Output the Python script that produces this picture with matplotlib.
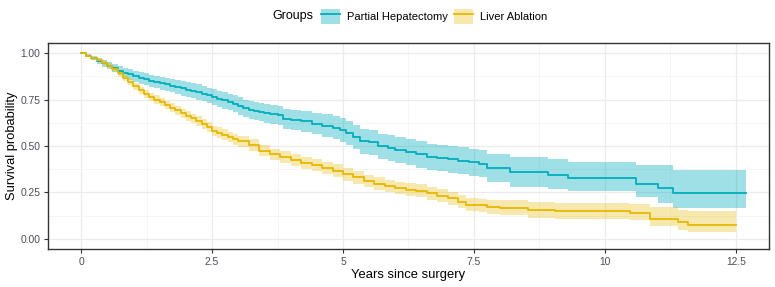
import numpy as np
import matplotlib
matplotlib.use("Agg")
import matplotlib.pyplot as plt
from matplotlib.patches import Patch
from matplotlib.lines import Line2D
from matplotlib.ticker import FixedLocator

plt.rcParams['font.family'] = ['Liberation Sans', 'DejaVu Sans']

# Kaplan-Meier estimates
groups = ['Partial Hepatectomy', 'Liver Ablation']
colors = ['#00AFBB', '#E7B800']
fill_alpha = [0.38, 0.32]

ph_time = [0, 0.1, 0.2, 0.3, 0.4, 0.5, 0.6, 0.7, 0.8, 0.9, 1.0, 1.1, 1.2, 1.3,
           1.4, 1.5, 1.6, 1.7, 1.8, 1.9, 2.0, 2.1, 2.2, 2.3, 2.4, 2.5, 2.6, 2.7,
           2.8, 2.9, 3.0, 3.1, 3.2, 3.3, 3.4, 3.5, 3.6, 3.75, 3.85, 4.0, 4.2,
           4.4, 4.6, 4.8, 4.95, 5.05, 5.2, 5.32, 5.5, 5.67, 5.85, 6.0, 6.2, 6.4,
           6.6, 6.8, 7.0, 7.2, 7.4, 7.6, 7.74, 8.19, 8.92, 9.3, 10.6, 11.02,
           11.29, 12.7]
ph_surv = [1.0, 0.985, 0.972, 0.958, 0.945, 0.932, 0.92, 0.905, 0.895, 0.885,
           0.875, 0.866, 0.858, 0.851, 0.845, 0.838, 0.832, 0.825, 0.818, 0.81,
           0.803, 0.797, 0.79, 0.782, 0.772, 0.763, 0.755, 0.745, 0.735, 0.727,
           0.715, 0.703, 0.695, 0.688, 0.682, 0.676, 0.672, 0.665, 0.645, 0.64,
           0.632, 0.62, 0.61, 0.598, 0.585, 0.568, 0.548, 0.525, 0.52, 0.498,
           0.49, 0.48, 0.466, 0.455, 0.442, 0.435, 0.428, 0.422, 0.412, 0.405,
           0.383, 0.358, 0.344, 0.328, 0.297, 0.273, 0.246, 0.246]
ph_upper = [1.0, 0.993, 0.984, 0.973, 0.963, 0.952, 0.942, 0.929, 0.921, 0.913,
            0.905, 0.897, 0.89, 0.884, 0.879, 0.873, 0.868, 0.862, 0.856, 0.849,
            0.843, 0.838, 0.831, 0.824, 0.814, 0.805, 0.798, 0.789, 0.779, 0.772,
            0.761, 0.75, 0.743, 0.737, 0.731, 0.726, 0.723, 0.717, 0.698, 0.695,
            0.689, 0.678, 0.67, 0.66, 0.649, 0.633, 0.614, 0.592, 0.588, 0.567,
            0.559, 0.55, 0.536, 0.526, 0.513, 0.507, 0.5, 0.494, 0.485, 0.478,
            0.458, 0.44, 0.43, 0.415, 0.398, 0.398, 0.371, 0.371]
ph_lower = [1.0, 0.977, 0.96, 0.943, 0.927, 0.912, 0.898, 0.881, 0.869, 0.857,
            0.845, 0.835, 0.826, 0.818, 0.811, 0.803, 0.796, 0.788, 0.78, 0.771,
            0.763, 0.756, 0.749, 0.74, 0.73, 0.721, 0.712, 0.701, 0.691, 0.682,
            0.669, 0.656, 0.647, 0.639, 0.633, 0.626, 0.621, 0.613, 0.592, 0.585,
            0.576, 0.562, 0.55, 0.536, 0.521, 0.503, 0.482, 0.458, 0.452, 0.429,
            0.421, 0.41, 0.396, 0.384, 0.371, 0.364, 0.356, 0.35, 0.339, 0.332,
            0.308, 0.281, 0.268, 0.26, 0.228, 0.192, 0.168, 0.168]

la_time = [0, 0.1, 0.2, 0.3, 0.4, 0.5, 0.6, 0.7, 0.8, 0.9, 1.0, 1.1, 1.2, 1.3,
           1.4, 1.5, 1.6, 1.7, 1.8, 1.9, 2.0, 2.1, 2.2, 2.3, 2.4, 2.5, 2.6, 2.7,
           2.8, 2.9, 3.0, 3.2, 3.4, 3.6, 3.8, 4.0, 4.2, 4.4, 4.6, 4.8, 5.0, 5.2,
           5.4, 5.6, 5.8, 6.0, 6.2, 6.4, 6.6, 6.8, 7.0, 7.2, 7.35, 7.6, 7.75,
           8.0, 8.54, 9.05, 10.47, 10.86, 11.4, 11.59, 12.5]
la_surv = [1.0, 0.985, 0.972, 0.962, 0.948, 0.932, 0.912, 0.89, 0.866, 0.845,
           0.822, 0.8, 0.78, 0.764, 0.75, 0.735, 0.72, 0.705, 0.692, 0.676,
           0.662, 0.648, 0.634, 0.618, 0.6, 0.582, 0.571, 0.56, 0.548, 0.537,
           0.526, 0.505, 0.475, 0.455, 0.44, 0.425, 0.41, 0.397, 0.383, 0.368,
           0.348, 0.332, 0.312, 0.298, 0.285, 0.275, 0.266, 0.26, 0.245, 0.232,
           0.218, 0.2, 0.185, 0.18, 0.172, 0.168, 0.156, 0.15, 0.141, 0.11,
           0.09, 0.074, 0.074]
la_upper = [1.0, 0.991, 0.981, 0.973, 0.961, 0.947, 0.928, 0.907, 0.884, 0.864,
            0.841, 0.82, 0.8, 0.785, 0.772, 0.757, 0.743, 0.729, 0.716, 0.7,
            0.687, 0.674, 0.66, 0.645, 0.627, 0.61, 0.6, 0.589, 0.577, 0.567,
            0.556, 0.536, 0.506, 0.486, 0.472, 0.457, 0.442, 0.43, 0.416, 0.402,
            0.382, 0.366, 0.346, 0.332, 0.319, 0.309, 0.3, 0.294, 0.279, 0.267,
            0.253, 0.235, 0.221, 0.217, 0.21, 0.208, 0.198, 0.195, 0.19, 0.174,
            0.156, 0.15, 0.15]
la_lower = [1.0, 0.979, 0.963, 0.951, 0.935, 0.917, 0.896, 0.873, 0.848, 0.826,
            0.803, 0.78, 0.76, 0.743, 0.728, 0.713, 0.697, 0.681, 0.668, 0.652,
            0.637, 0.622, 0.608, 0.591, 0.573, 0.554, 0.542, 0.531, 0.519, 0.507,
            0.496, 0.474, 0.444, 0.424, 0.408, 0.393, 0.378, 0.364, 0.35, 0.334,
            0.314, 0.298, 0.278, 0.264, 0.251, 0.241, 0.232, 0.226, 0.211, 0.197,
            0.183, 0.165, 0.15, 0.143, 0.133, 0.128, 0.114, 0.107, 0.1, 0.07,
            0.048, 0.04, 0.04]

x_ticks = [0, 2.5, 5, 7.5, 10, 12.5]
x_ticklabels = ['0', '2.5', '5', '7.5', '10', '12.5']
y_ticks = [0, 0.25, 0.5, 0.75, 1.0]
y_ticklabels = ['0.00', '0.25', '0.50', '0.75', '1.00']

W, H = 775, 287
fig = plt.figure(figsize=(W / 100, H / 100), dpi=100)
ax = fig.add_axes([48 / W, (H - 249) / H, (769 - 48) / W, (249 - 43) / H])

curves = [(ph_time, ph_surv, ph_lower, ph_upper),
          (la_time, la_surv, la_lower, la_upper)]
for (t, s, lo, hi), c, a in zip(curves, colors, fill_alpha):
    ax.fill_between(t, lo, hi, step='post', color=c, alpha=a, linewidth=0)
for (t, s, lo, hi), c in zip(curves, colors):
    ax.step(t, s, where='post', color=c, linewidth=1.3)

ax.set_xlim(-0.63, 13.13)
ax.set_ylim(-0.054, 1.054)
ax.set_xticks(x_ticks)
ax.set_xticklabels(x_ticklabels)
ax.set_yticks(y_ticks)
ax.set_yticklabels(y_ticklabels)
ax.xaxis.set_minor_locator(FixedLocator([1.25, 3.75, 6.25, 8.75, 11.25]))
ax.yaxis.set_minor_locator(FixedLocator([0.125, 0.375, 0.625, 0.875]))
ax.grid(which='major', color='#EBEBEB', linewidth=0.9)
ax.grid(which='minor', color='#F2F2F2', linewidth=0.5)
ax.set_axisbelow(True)
ax.tick_params(which='major', length=3, width=0.8, color='#333333',
               labelsize=7.4, labelcolor='#4D4D58', pad=2.5)
ax.tick_params(which='minor', length=0)
for sp in ax.spines.values():
    sp.set_color('#333333')
    sp.set_linewidth(1.0)

ax.set_xlabel('Years since surgery', fontsize=9.4, labelpad=2)
ax.set_ylabel('Survival probability', fontsize=9.3, labelpad=1.5)

# legend on top, title to the left
fig.text(272 / W, 1 - 16 / H, 'Groups', fontsize=9, va='center', ha='left')
handles = [(Patch(facecolor=c, alpha=a, linewidth=0),
            Line2D([], [], color=c, linewidth=1.3))
           for c, a in zip(colors, fill_alpha)]
fig.legend(handles, groups, loc='center left', ncol=2,
           bbox_to_anchor=(321 / W, 1 - 16 / H), frameon=False,
           fontsize=8, handlelength=1.7, handleheight=1.7,
           handletextpad=0.6, columnspacing=0.6, borderpad=0,
           borderaxespad=0)

fig.savefig('out.png', dpi=100)
